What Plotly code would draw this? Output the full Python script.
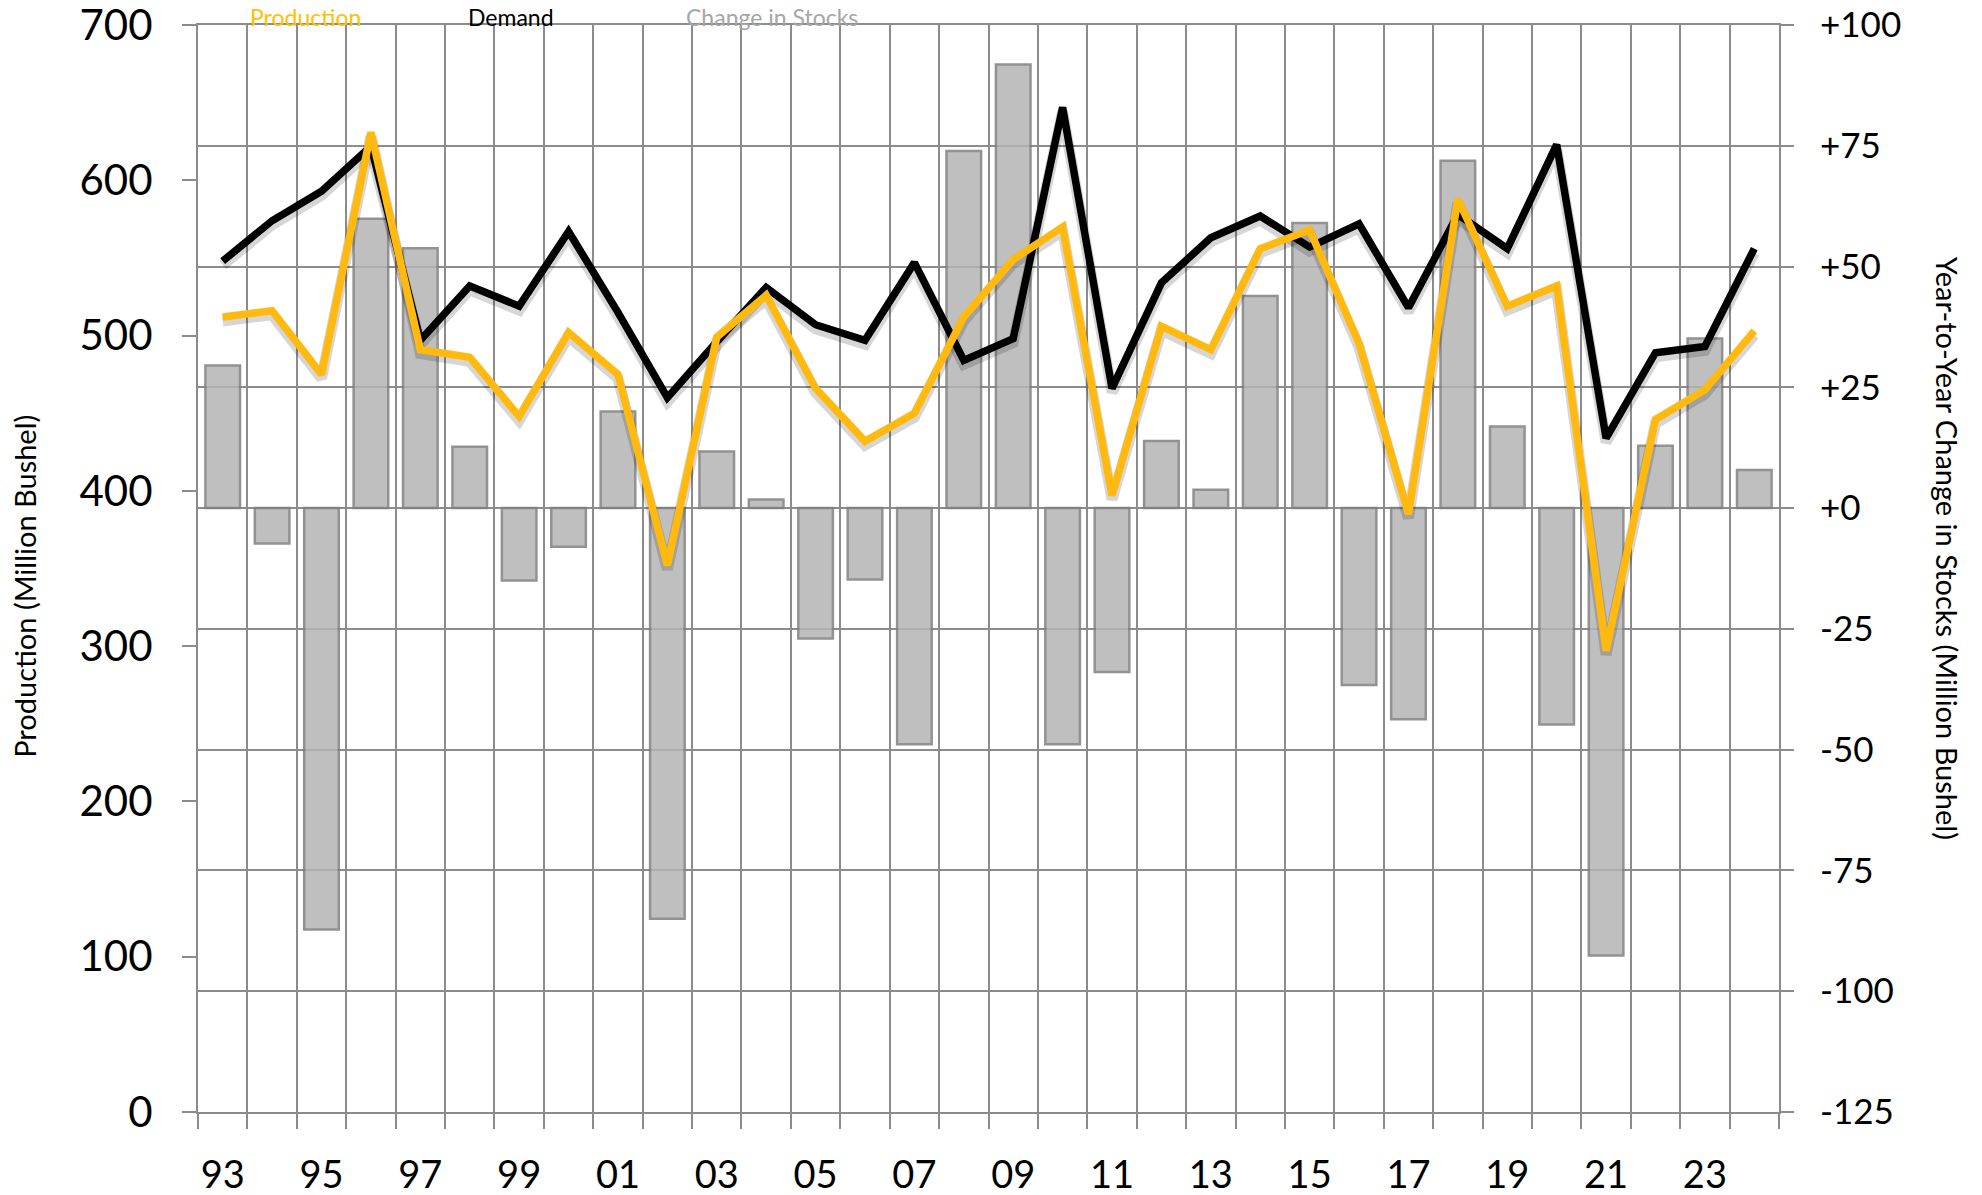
import plotly.graph_objects as go

# ---- data ----
years = list(range(1993, 2025))
demand = [548, 574, 593, 622, 497, 532, 519, 567, 515, 460, 496, 531, 507, 497, 547, 484,
          498, 647, 466, 534, 563, 577, 557, 572, 518, 578, 556, 623, 434, 489, 493, 556]
production = [512, 516, 475, 631, 491, 486, 448, 502, 475, 352, 499, 526, 466, 432, 450, 512,
              549, 570, 397, 506, 491, 556, 568, 495, 385, 588, 519, 532, 297, 446, 465, 503]
change_in_stocks = [29.5, -7.3, -87.2, 59.9, 53.8, 12.7, -15, -8, 20, -85, 11.7, 1.8, -27, -14.8,
                    -48.9, 73.9, 91.8, -48.9, -33.9, 13.9, 3.8, 43.9, 59, -36.6, -43.7, 71.9,
                    16.9, -44.8, -92.6, 12.9, 35.1, 7.9]
x_tick_years = list(range(1993, 2025, 2))
x_tick_labels = ["93", "95", "97", "99", "01", "03", "05", "07", "09", "11", "13", "15",
                 "17", "19", "21", "23"]
right_tick_vals = [100, 75, 50, 25, 0, -25, -50, -75, -100, -125]
right_tick_labels = ["+100", "+75", "+50", "+25", "+0", "-25", "-50", "-75", "-100", "-125"]
left_tick_vals = [0, 100, 200, 300, 400, 500, 600, 700]
left_tick_labels = ["0", "100", "200", "300", "400", "500", "600", "700"]

FONT = "Lato"
GRID = "#8c8c8c"
GOLD = "#FFB90F"
SHADOW = "rgba(0,0,0,0.16)"
LEFT_RANGE = [0, 700]
SHADOW_SHIFT = 2.6  # axis offset (in axis units) that drops the soft shadow ~4px

fig = go.Figure()

# bars on the right-hand axis (primary y, drawn first / underneath)
fig.add_trace(go.Bar(
    x=years, y=change_in_stocks, width=0.7, name="Change in Stocks",
    marker=dict(color="#b5b4b5", line=dict(color="#808080", width=2.5)),
    opacity=0.85, yaxis="y", showlegend=False))

# soft shadows of the two lines on a hidden, slightly shifted axis
fig.add_trace(go.Scatter(
    x=years, y=demand, mode="lines", hoverinfo="skip",
    line=dict(color=SHADOW, width=11), yaxis="y2", showlegend=False))
fig.add_trace(go.Scatter(
    x=years, y=production, mode="lines", hoverinfo="skip",
    line=dict(color=SHADOW, width=11), yaxis="y2", showlegend=False))

# the lines on the left-hand axis
fig.add_trace(go.Scatter(
    x=years, y=demand, mode="lines", name="Demand",
    line=dict(color="#000000", width=7.5), yaxis="y3", showlegend=False))
fig.add_trace(go.Scatter(
    x=years, y=production, mode="lines", name="Production",
    line=dict(color=GOLD, width=7.5), yaxis="y3", showlegend=False))

fig.update_layout(
    width=1982, height=1195, autosize=False,
    margin=dict(l=198, r=203, t=25, b=82.5),
    paper_bgcolor="white", plot_bgcolor="white",
    font=dict(family=FONT, color="black"),
    showlegend=False,
    xaxis=dict(
        range=[1992.5, 2024.5], automargin=False,
        tickmode="array", tickvals=x_tick_years, ticktext=x_tick_labels,
        ticks="", showgrid=False, zeroline=False,
        tickfont=dict(size=38, family=FONT, color="black"),
        ticklabelstandoff=28, ticklabeloverflow="allow",
        showline=True, linecolor=GRID, linewidth=2, mirror=True,
        minor=dict(tick0=1992.5, dtick=1, showgrid=True, gridcolor=GRID, gridwidth=2,
                   ticks="outside", ticklen=15, tickcolor=GRID, tickwidth=2),
    ),
    yaxis=dict(
        side="right", range=[-125, 100], automargin=False,
        tickmode="array", tickvals=right_tick_vals, ticktext=right_tick_labels,
        showgrid=True, gridcolor=GRID, gridwidth=2, zeroline=False,
        ticks="outside", ticklen=13, tickcolor=GRID, tickwidth=2,
        tickfont=dict(size=35, family=FONT, color="black"),
        ticklabelstandoff=19, ticklabeloverflow="allow",
        showline=True, linecolor=GRID, linewidth=2, mirror=True,
    ),
    yaxis2=dict(
        overlaying="y", side="left", automargin=False,
        range=[LEFT_RANGE[0] + SHADOW_SHIFT, LEFT_RANGE[1] + SHADOW_SHIFT],
        visible=False, showgrid=False, zeroline=False,
    ),
    yaxis3=dict(
        overlaying="y", side="left", range=[LEFT_RANGE[0] - 0.05, LEFT_RANGE[1] + 0.05],
        automargin=False,
        tickmode="array", tickvals=left_tick_vals, ticktext=left_tick_labels,
        showgrid=False, zeroline=False,
        ticks="outside", ticklen=15, tickcolor=GRID, tickwidth=2,
        tickfont=dict(size=42, family=FONT, color="black"),
        ticklabelstandoff=21, ticklabeloverflow="allow",
        showline=False,
    ),
    annotations=[
        dict(text="Production (Million Bushel)", xref="paper", yref="paper",
             x=-0.1094, y=0.4832, xanchor="center", yanchor="middle", textangle=-90,
             showarrow=False, font=dict(size=29, family=FONT, color="black")),
        dict(text="Year-to-Year Change in Stocks (Million Bushel)", xref="paper", yref="paper",
             x=1.1063, y=0.519, xanchor="center", yanchor="middle", textangle=90,
             showarrow=False, font=dict(size=29, family=FONT, color="black")),
        dict(text="Production", xref="paper", yref="paper", x=0.0677, y=1.0225,
             xanchor="center", yanchor="top", showarrow=False,
             font=dict(size=23, family=FONT, color="#FFC000")),
        dict(text="Demand", xref="paper", yref="paper", x=0.1980, y=1.0225,
             xanchor="center", yanchor="top", showarrow=False,
             font=dict(size=23, family=FONT, color="black")),
        dict(text="Change in Stocks", xref="paper", yref="paper", x=0.3631, y=1.0225,
             xanchor="center", yanchor="top", showarrow=False,
             font=dict(size=23, family=FONT, color="#a6a6a6")),
    ],
)

fig.write_html("out.html", config={"displayModeBar": False},
               post_script="document.body.style.margin='0';document.body.style.overflow='hidden';")
